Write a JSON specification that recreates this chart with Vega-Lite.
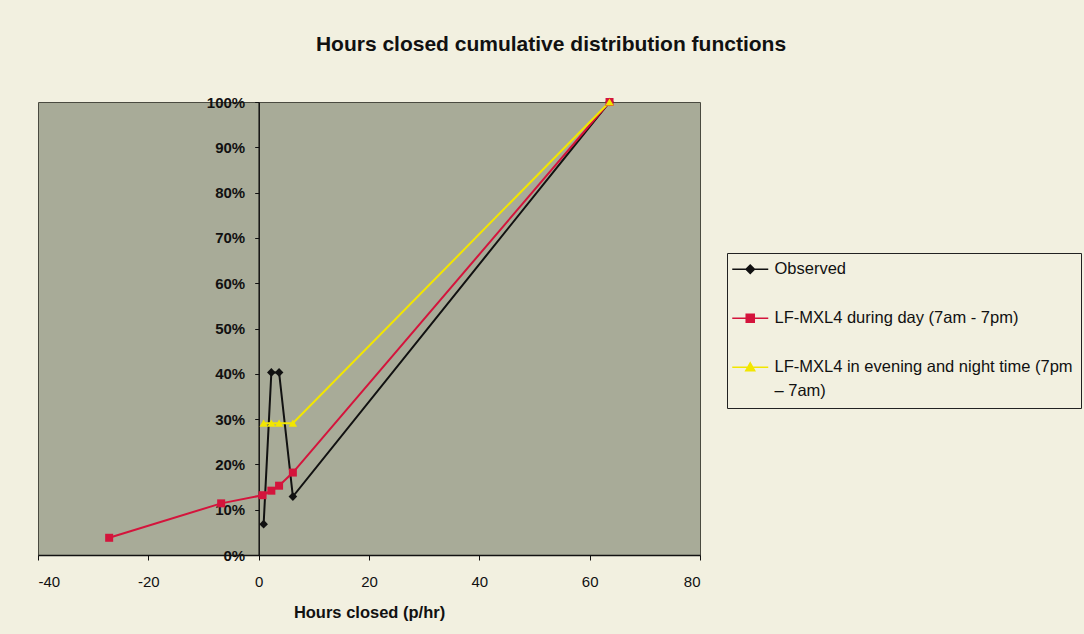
{
  "$schema": "https://vega.github.io/schema/vega-lite/v6.json",
  "autosize": {"type": "none"},
  "width": 662,
  "height": 453,
  "padding": {"left": 38, "top": 102, "right": 384, "bottom": 79},
  "background": "#f2f0e0",
  "config": {
    "font": "Liberation Sans",
    "view": {"fill": "#a8ab98", "stroke": "#4a4a40", "strokeWidth": 1}
  },
  "title": {
    "text": "Hours closed cumulative distribution functions",
    "font": "Liberation Sans",
    "fontSize": 21,
    "fontWeight": "bold",
    "color": "#111111",
    "anchor": "middle",
    "dx": 182,
    "offset": 40
  },
  "data": {
    "values": [
      {"series": "Observed", "hours": 0.9, "p": 0.068},
      {"series": "Observed", "hours": 2.3, "p": 0.403},
      {"series": "Observed", "hours": 3.7, "p": 0.403},
      {"series": "Observed", "hours": 6.2, "p": 0.129},
      {"series": "Observed", "hours": 63.6, "p": 1.0},
      {"series": "LF-MXL4 during day (7am - 7pm)", "hours": -27.1, "p": 0.038},
      {"series": "LF-MXL4 during day (7am - 7pm)", "hours": -6.8, "p": 0.114},
      {"series": "LF-MXL4 during day (7am - 7pm)", "hours": 0.7, "p": 0.132},
      {"series": "LF-MXL4 during day (7am - 7pm)", "hours": 2.3, "p": 0.142},
      {"series": "LF-MXL4 during day (7am - 7pm)", "hours": 3.7, "p": 0.153},
      {"series": "LF-MXL4 during day (7am - 7pm)", "hours": 6.2, "p": 0.182},
      {"series": "LF-MXL4 during day (7am - 7pm)", "hours": 63.6, "p": 1.0},
      {"series": "LF-MXL4 in evening and night time (7pm – 7am)", "hours": 0.9, "p": 0.291},
      {"series": "LF-MXL4 in evening and night time (7pm – 7am)", "hours": 2.3, "p": 0.291},
      {"series": "LF-MXL4 in evening and night time (7pm – 7am)", "hours": 3.7, "p": 0.291},
      {"series": "LF-MXL4 in evening and night time (7pm – 7am)", "hours": 6.2, "p": 0.291},
      {"series": "LF-MXL4 in evening and night time (7pm – 7am)", "hours": 63.6, "p": 1.0}
    ]
  },
  "encoding": {
    "x": {
      "field": "hours",
      "type": "quantitative",
      "scale": {"domain": [-40, 80], "nice": false, "zero": false},
      "axis": {
        "title": "Hours closed (p/hr)",
        "values": [-40, -20, 0, 20, 40, 60, 80],
        "labelExpr": "replace(datum.label, '−', '-')",
        "grid": false,
        "domainColor": "#111111",
        "domainWidth": 1.5,
        "tickColor": "#111111",
        "tickSize": 5,
        "labelFontSize": 15,
        "labelColor": "#111111",
        "labelPadding": 14,
        "titleFontSize": 16.5,
        "titleFontWeight": "bold",
        "titleColor": "#111111",
        "titlePadding": 15
      }
    },
    "y": {
      "field": "p",
      "type": "quantitative",
      "scale": {"domain": [0, 1], "nice": false},
      "axis": {
        "title": null,
        "format": ".0%",
        "values": [0, 0.1, 0.2, 0.3, 0.4, 0.5, 0.6, 0.7, 0.8, 0.9, 1.0],
        "grid": false,
        "offset": -220.7,
        "domainColor": "#111111",
        "domainWidth": 1.5,
        "tickColor": "#111111",
        "tickSize": 4,
        "labelFontSize": 15,
        "labelFontWeight": "bold",
        "labelColor": "#111111",
        "labelPadding": 10
      }
    },
    "color": {
      "field": "series",
      "type": "nominal",
      "scale": {
        "domain": ["Observed", "LF-MXL4 during day (7am - 7pm)", "LF-MXL4 in evening and night time (7pm – 7am)"],
        "range": ["#111111", "#d4143c", "#f2e600"]
      },
      "legend": {
        "title": null,
        "orient": "none",
        "legendX": 689,
        "legendY": 151,
        "direction": "vertical",
        "strokeColor": "#222222",
        "fillColor": "#f2f0e0",
        "padding": 8,
        "rowPadding": 32,
        "symbolSize": 144,
        "symbolOffset": 7,
        "labelOffset": 16,
        "labelFontSize": 16.5,
        "labelColor": "#111111",
        "labelLimit": 600,
        "labelExpr": "datum.label == 'LF-MXL4 in evening and night time (7pm – 7am)' ? ['LF-MXL4 in evening and night time (7pm', '– 7am)'] : datum.label",
        "encode": {
          "labels": {"update": {"lineHeight": {"value": 24}}},
          "symbols": {
            "update": {
              "shape": {"signal": "datum.value == 'Observed' ? 'M-3,0H3M0,-0.7L0.7,0L0,0.7L-0.7,0Z' : (datum.value == 'LF-MXL4 during day (7am - 7pm)' ? 'M-3,0H3M-0.67,-0.67H0.67V0.67H-0.67Z' : 'M-3,0H3M0,-0.75L0.75,0.6H-0.75Z')"},
              "stroke": {"scale": "color", "field": "value"},
              "fill": {"scale": "color", "field": "value"},
              "strokeWidth": {"value": 1.5},
              "opacity": {"value": 1}
            }
          }
        }
      }
    }
  },
  "layer": [
    {
      "mark": {"type": "line", "strokeWidth": 2},
      "encoding": {"order": {"field": "hours", "type": "quantitative"}}
    },
    {
      "transform": [{"filter": "datum.series == 'Observed'"}],
      "mark": {"type": "point", "filled": true, "opacity": 1, "shape": "diamond", "size": 75}
    },
    {
      "transform": [{"filter": "datum.series == 'LF-MXL4 during day (7am - 7pm)'"}],
      "mark": {"type": "point", "filled": true, "opacity": 1, "shape": "square", "size": 64}
    },
    {
      "transform": [{"filter": "datum.series == 'LF-MXL4 in evening and night time (7pm – 7am)'"}],
      "mark": {"type": "point", "filled": true, "opacity": 1, "shape": "triangle-up", "size": 70}
    }
  ]
}
